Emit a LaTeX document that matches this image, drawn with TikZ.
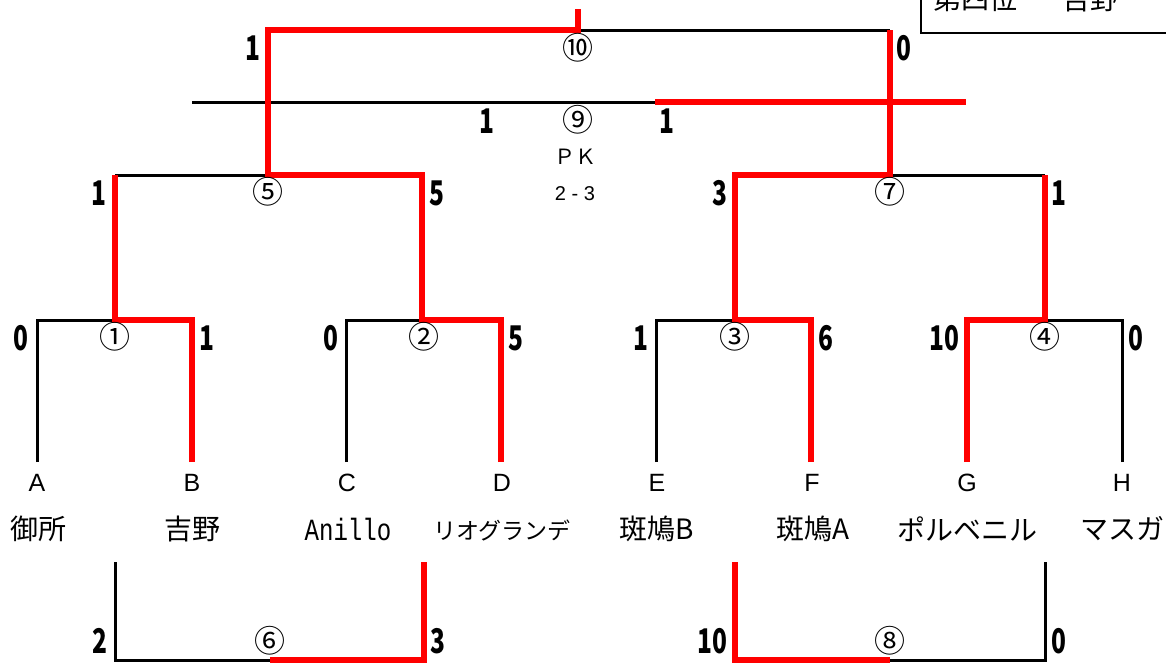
\documentclass[tikz,border=0pt]{standalone}
\usepackage{fontspec}
\setmainfont{Liberation Sans}
\newfontfamily\jp{Noto Sans CJK JP}
\newfontfamily\monof{Liberation Mono}
\newcommand\scoretxt[1]{\scalebox{0.72}[1]{\jp\bfseries\fontsize{34}{34}\selectfont #1}}
\begin{document}
\begin{tikzpicture}[x=1pt,y=-1pt,
  blk/.style={line width=3pt, draw=black, line join=miter},
  win/.style={line width=5.5pt, draw=red, line join=miter},
  score/.style={inner sep=0pt},
  circ/.style={inner sep=0pt, font=\jp\fontsize{31}{31}\selectfont},
  letter/.style={inner sep=0pt, font=\fontsize{25}{25}\selectfont},
  tname/.style={inner sep=0pt, font=\jp\fontsize{28}{28}\selectfont},
  small/.style={inner sep=0pt}]
\useasboundingbox (0,0) rectangle (1166,662);
\clip (0,0) rectangle (1166,662);
\fill[white] (0,0) rectangle (1166,662);

% result box (top right, cut)
\draw[line width=2pt] (921,-10) -- (921,33) -- (1180,33);
\node[tname, anchor=west] (fourth) at (933,-1) {第四位};
\node[tname, anchor=west] (fourthname) at (1062,-1) {吉野};

% ---------- black segments ----------
\draw[blk] (578,30) -- (890,30);
\draw[blk] (192,102) -- (655,102);
\draw[blk] (115,175) -- (268,175);
\draw[blk] (890,175) -- (1045,175);
\draw[blk] (37,462) -- (37,320) -- (115,320);
\draw[blk] (346,462) -- (346,320) -- (422,320);
\draw[blk] (656,462) -- (656,320) -- (735,320);
\draw[blk] (1122,462) -- (1122,320) -- (1045,320);
\draw[blk] (115,562) -- (115,660) -- (270,660);
\draw[blk] (890,660) -- (1045,660) -- (1045,562);

% ---------- red (winner) segments ----------
\draw[win] (655,102) -- (966,102);
\draw[win] (192,462) -- (192,320) -- (115,320) -- (115,175);
\draw[win] (501,462) -- (501,320) -- (422,320) -- (422,175) -- (268,175) -- (268,30) -- (578,30) -- (578,9);
\draw[win] (811,462) -- (811,320) -- (735,320) -- (735,175) -- (890,175) -- (890,30);
\draw[win] (967,462) -- (967,320) -- (1045,320) -- (1045,175);
\draw[win] (270,660) -- (424,660) -- (424,562);
\draw[win] (735,562) -- (735,660) -- (890,660);

% ---------- match numbers ----------
\node[circ] (m1) at (115,337) {①};
\node[circ] (m2) at (424,337) {②};
\node[circ] (m3) at (735,337) {③};
\node[circ] (m4) at (1045,337) {④};
\node[circ] (m5) at (268,192) {⑤};
\node[circ] (m6) at (270,641) {⑥};
\node[circ] (m7) at (890,192) {⑦};
\node[circ] (m8) at (890,641) {⑧};
\node[circ] (m9) at (578,120) {⑨};
\node[circ] (m10) at (578,48) {⑩};

% ---------- scores ----------
% final
\node[score, anchor=east] (s10a) at (261,48) {\scoretxt{1}};
\node[score, anchor=west] (s10b) at (896,48) {\scoretxt{0}};
% third place
\node[score] (s9a) at (487,121) {\scoretxt{1}};
\node[score] (s9b) at (667,121) {\scoretxt{1}};
\node[small, font=\jp\fontsize{21}{21}\selectfont] (pk) at (575,157) {ＰＫ};
\node[small, font=\fontsize{20}{20}\selectfont] (pks) at (575,194) {2 - 3};
% semis
\node[score, anchor=east] (s5a) at (107,193) {\scoretxt{1}};
\node[score, anchor=west] (s5b) at (429,193) {\scoretxt{5}};
\node[score, anchor=east] (s7a) at (728,193) {\scoretxt{3}};
\node[score, anchor=west] (s7b) at (1051,193) {\scoretxt{1}};
% quarter
\node[score, anchor=east] (s1a) at (29,338) {\scoretxt{0}};
\node[score, anchor=west] (s1b) at (199,338) {\scoretxt{1}};
\node[score, anchor=east] (s2a) at (339,338) {\scoretxt{0}};
\node[score, anchor=west] (s2b) at (508,338) {\scoretxt{5}};
\node[score, anchor=east] (s3a) at (649,338) {\scoretxt{1}};
\node[score, anchor=west] (s3b) at (818,338) {\scoretxt{6}};
\node[score, anchor=east] (s4a) at (960,338) {\scoretxt{10}};
\node[score, anchor=west] (s4b) at (1128,338) {\scoretxt{0}};
% placement matches
\node[score, anchor=east] (s6a) at (108,641) {\scoretxt{2}};
\node[score, anchor=west] (s6b) at (430,641) {\scoretxt{3}};
\node[score, anchor=east] (s8a) at (728,641) {\scoretxt{10}};
\node[score, anchor=west] (s8b) at (1051,641) {\scoretxt{0}};

% ---------- team letters ----------
\node[letter] (A) at (37,483) {A};
\node[letter] (B) at (192,483) {B};
\node[letter] (C) at (347,483) {C};
\node[letter] (D) at (502,483) {D};
\node[letter] (E) at (657,483) {E};
\node[letter] (F) at (812,483) {F};
\node[letter] (G) at (967,483) {G};
\node[letter] (H) at (1122,483) {H};

% ---------- team names ----------
\node[tname] (nA) at (38,529) {御所};
\node[tname] (nB) at (192,529) {吉野};
\node[inner sep=0pt] (nC) at (348,529) {\scalebox{0.86}[1.1]{\monof\fontsize{28}{28}\selectfont Anillo}};
\node[inner sep=0pt, font=\jp\fontsize{23}{23}\selectfont] (nD) at (502,530) {リオグランデ};
\node[tname] (nE) at (657,529) {斑鳩B};
\node[tname] (nF) at (813,529) {斑鳩A};
\node[tname] (nG) at (967,529) {ポルベニル};
\node[tname] (nH) at (1122,529) {マスガ};
\end{tikzpicture}
\end{document}
